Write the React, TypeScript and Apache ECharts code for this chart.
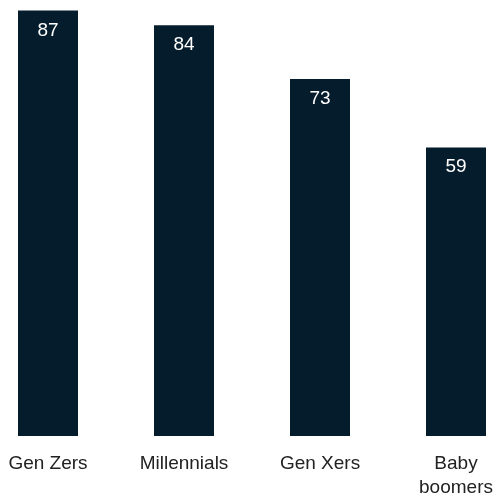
import React, { useEffect, useRef } from "react";
import * as echarts from "echarts";

const categories = ["Gen Zers", "Millennials", "Gen Xers", "Baby\nboomers"];
const values = [87, 84, 73, 59];

export default function App() {
  const ref = useRef<HTMLDivElement>(null);
  useEffect(() => {
    if (!ref.current) return;
    const chart = echarts.init(ref.current, undefined, { renderer: "svg" });
    chart.setOption({
      animation: false,
      grid: { left: 0, right: 0, top: 0, bottom: 56, containLabel: false },
      xAxis: {
        type: "category",
        data: categories,
        axisLine: { show: false },
        axisTick: { show: false },
        axisLabel: {
          color: "#222222",
          fontSize: 19,
          fontFamily: "Liberation Sans",
          margin: 14,
          lineHeight: 24,
          interval: 0,
        },
      },
      yAxis: { type: "value", min: 0, max: 100, show: false, splitLine: { show: false } },
      series: [
        {
          type: "bar",
          data: values,
          barWidth: 60,
          itemStyle: { color: "#051c2c" },
          label: {
            show: true,
            position: "insideTop",
            distance: 9,
            color: "#ffffff",
            fontSize: 19,
            fontFamily: "Liberation Sans",
          },
        },
      ],
    });
    return () => chart.dispose();
  }, []);
  return (
    <div style={{ position: "fixed", left: 0, top: 0, width: 497, height: 498, overflow: "hidden" }}>
      <div
        ref={ref}
        style={{ position: "absolute", left: -20, top: -53, width: 544, height: 551 }}
      />
    </div>
  );
}
